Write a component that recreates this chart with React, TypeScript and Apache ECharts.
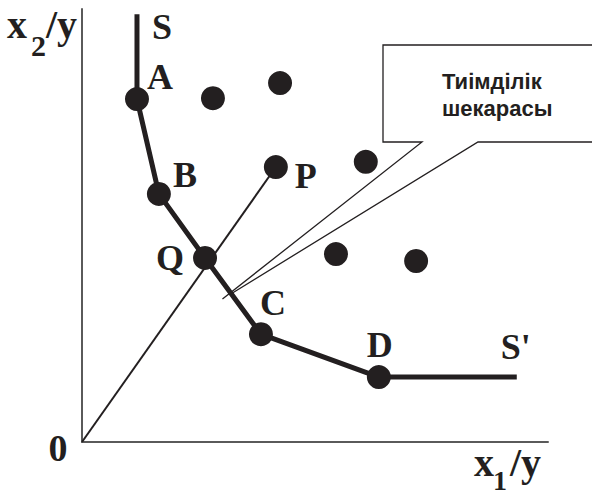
import React, { useEffect, useRef } from "react";
import * as echarts from "echarts";

// ---- data (chart units: axes run 0..100) ----
const frontierNames = ["S", "A", "B", "Q", "C", "D", "S'"];
const frontierX = [11.8, 11.8, 16.5, 26.4, 38.4, 63.7, 93.3];
const frontierY = [98.8, 79.2, 57.3, 42.5, 24.9, 15.0, 15.0];
const frontierHasDot = [false, true, true, true, true, true, false];

const pointPName = "P";
const pointP = [41.6, 63.5];
const originName = "0";
const origin = [0, 0];

const otherX = [28.1, 42.5, 60.9, 54.5, 71.7];
const otherY = [79.4, 82.9, 64.7, 43.4, 41.8];

const calloutText = ["Тиімділік", "шекарасы"];
const calloutAnchor = [31.0, 33.5];

const yAxisLabel = ["x", "2", "/y"];
const xAxisLabel = ["x", "1", "/y"];

// ---- styles / layout ----
const INK = "#231f20";
const SERIF = '"Liberation Serif", "Times New Roman", serif';
const SANS = '"Liberation Sans", Arial, sans-serif';
const LETTER_SIZE = 36;
const labelOffsets: Record<string, number[]> = {
  S: [25, 13],
  A: [23, -22],
  B: [26, -19],
  Q: [-35, 0],
  C: [12, -31],
  D: [1, -32],
  "S'": [-1, -30],
  P: [30, 9],
  "0": [-24, 6],
};

function letterLabel(name: string, size = LETTER_SIZE) {
  return {
    show: true,
    formatter: name,
    position: "inside",
    offset: labelOffsets[name],
    color: INK,
    fontFamily: SERIF,
    fontWeight: "bold",
    fontSize: size,
    align: "center",
    verticalAlign: "middle",
  };
}

export default function App() {
  const ref = useRef<HTMLDivElement>(null);

  useEffect(() => {
    if (!ref.current) return;
    const chart = echarts.init(ref.current, undefined, { renderer: "svg" });

    const frontierData = frontierNames.map((n, i) => ({
      value: [frontierX[i], frontierY[i]],
      symbolSize: frontierHasDot[i] ? 24 : 0,
      label: letterLabel(n),
    }));

    const scatterData = [
      { value: pointP, label: letterLabel(pointPName) },
      ...otherX.map((x, i) => ({ value: [x, otherY[i]] })),
    ];

    const axisCommon = {
      type: "value",
      min: 0,
      max: 100,
      axisLine: { show: true, lineStyle: { color: "#5a5a5a", width: 2 } },
      axisTick: { show: false },
      axisLabel: { show: false },
      splitLine: { show: false },
    };

    chart.setOption({
      animation: false,
      backgroundColor: "#ffffff",
      grid: { left: 82, top: 9, right: 44, bottom: 54 },
      xAxis: { ...axisCommon },
      yAxis: { ...axisCommon },
      series: [
        {
          name: "ray",
          type: "line",
          z: 1,
          data: [
            { value: origin, label: letterLabel(originName, 38) },
            { value: pointP },
          ],
          symbol: "circle",
          symbolSize: 0,
          lineStyle: { color: INK, width: 2 },
          itemStyle: { color: INK, opacity: 1 },
        },
        {
          name: "frontier",
          type: "line",
          z: 2,
          data: frontierData,
          symbol: "circle",
          symbolSize: 24,
          showSymbol: true,
          lineStyle: { color: INK, width: 5 },
          itemStyle: { color: INK, opacity: 1 },
        },
        {
          name: "points",
          type: "scatter",
          z: 3,
          data: scatterData,
          symbolSize: 24,
          itemStyle: { color: INK, opacity: 1 },
        },
      ],
    });

    const tip = chart.convertToPixel({ gridIndex: 0 }, calloutAnchor) as number[];
    const tx = tip[0];
    const ty = tip[1];

    const serifText = (text: string, x: number, y: number, size: number) => ({
      type: "text",
      x,
      y,
      style: {
        text,
        fill: INK,
        font: `bold ${size}px ${SERIF}`,
        align: "left",
        verticalAlign: "middle",
      },
    });

    chart.setOption({
      graphic: [
        {
          type: "polyline",
          shape: { points: [[600, 142], [478, 142], [tx + 6, ty - 4]] },
          style: { stroke: INK, lineWidth: 1.3, fill: null },
        },
        {
          type: "polyline",
          shape: {
            points: [[tx - 4, ty + 2], [422, 142], [383, 142], [383, 45], [600, 45]],
          },
          style: { stroke: INK, lineWidth: 1.3, fill: null },
        },
        {
          type: "text",
          x: 442,
          y: 68,
          style: {
            text: calloutText.join("\n"),
            fill: INK,
            font: `bold 22px ${SANS}`,
            lineHeight: 27,
            align: "left",
            verticalAlign: "top",
          },
        },
        serifText(yAxisLabel[0], 7, 24, 40),
        serifText(yAxisLabel[1], 31, 45, 30),
        serifText(yAxisLabel[2], 46, 24, 40),
        serifText(xAxisLabel[0], 474, 462, 40),
        serifText(xAxisLabel[1], 493, 480, 28),
        serifText(xAxisLabel[2], 510, 462, 40),
      ],
    });

    return () => chart.dispose();
  }, []);

  return (
    <div
      ref={ref}
      style={{ position: "fixed", left: 0, top: 0, width: 592, height: 496, background: "#fff" }}
    />
  );
}
